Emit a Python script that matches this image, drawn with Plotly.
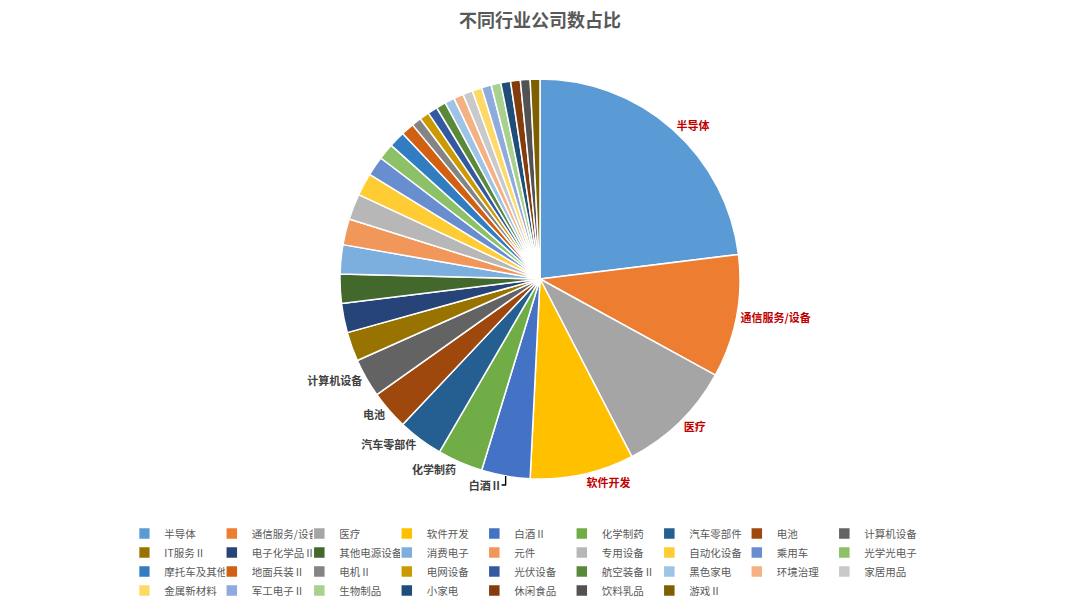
import plotly.graph_objects as go

# 行业与公司数量
industries = [
    "半导体", "通信服务/设备", "医疗", "软件开发", "白酒Ⅱ", "化学制药", "汽车零部件", "电池", "计算机设备",
    "IT服务Ⅱ", "电子化学品Ⅱ", "其他电源设备Ⅱ", "消费电子", "元件", "专用设备", "自动化设备", "乘用车", "光学光电子",
    "摩托车及其他", "地面兵装Ⅱ", "电机Ⅱ", "电网设备", "光伏设备", "航空装备Ⅱ", "黑色家电", "环境治理", "家居用品",
    "金属新材料", "军工电子Ⅱ", "生物制品", "小家电", "休闲食品", "饮料乳品", "游戏Ⅱ",
]
company_counts = [
    88, 38, 36, 32, 15, 14, 14, 12, 12,
    9, 9, 9, 9, 8, 8, 7, 6, 5,
    5, 4, 3, 3, 3, 3, 3, 3, 3,
    3, 3, 3, 3, 3, 3, 3,
]
# 带标签的行业及其标签颜色
labelled = ["半导体", "通信服务/设备", "医疗", "软件开发", "白酒Ⅱ", "化学制药", "汽车零部件", "电池", "计算机设备"]
highlighted = ["半导体", "通信服务/设备", "医疗", "软件开发"]

# Office 主题配色
slice_colours = [
    "#5B9BD5", "#ED7D31", "#A5A5A5", "#FFC000", "#4472C4", "#70AD47",
    "#255E91", "#9E480E", "#636363", "#997300", "#264478", "#43682B",
    "#7CAFDD", "#F1975A", "#B7B7B7", "#FFCD33", "#698ED0", "#8CC168",
    "#327DC2", "#D26012", "#848484", "#CC9A00", "#335AA1", "#5A8A39",
    "#9DC3E6", "#F4B183", "#C9C9C9", "#FFD966", "#8FAADC", "#A9D18E",
    "#1F4E79", "#843C0C", "#525252", "#7F6000",
]

FONT = "Noto Sans CJK SC"

texts = [f"<b>{n}</b>" if n in labelled else "" for n in industries]
positions = ["outside" if n in labelled else "none" for n in industries]
text_colours = ["#C00000" if n in highlighted else "#404040" for n in industries]

fig = go.Figure()
fig.add_trace(go.Pie(
    labels=industries,
    values=company_counts,
    text=texts,
    textinfo="text",
    textposition=positions,
    outsidetextfont=dict(family=FONT, size=11, color=text_colours),
    sort=False,
    direction="clockwise",
    rotation=0,
    marker=dict(colors=slice_colours, line=dict(color="white", width=1.5)),
    hoverinfo="label+value+percent",
))

fig.update_layout(
    width=1080,
    height=609,
    title=dict(
        text="<b>不同行业公司数占比</b>",
        x=0.5, xanchor="center",
        y=0.966, yanchor="middle",
        font=dict(family=FONT, size=18, color="#595959"),
    ),
    margin=dict(l=120, r=120, t=79, b=130, autoexpand=False),
    legend=dict(
        orientation="h",
        x=0.023, xanchor="left",
        y=-0.10, yanchor="top",
        entrywidth=57.5,
        entrywidthmode="pixels",
        itemwidth=30,
        indentation=-15,
        tracegroupgap=0,
        font=dict(family=FONT, size=10.5, color="#595959"),
    ),
    paper_bgcolor="white",
    plot_bgcolor="white",
)

# drop the browser's default 8px body margin so the figure sits at the page origin
fig.write_html(
    "out.html",
    config={"displayModeBar": False},
    post_script="document.body.style.margin = '0';",
)
